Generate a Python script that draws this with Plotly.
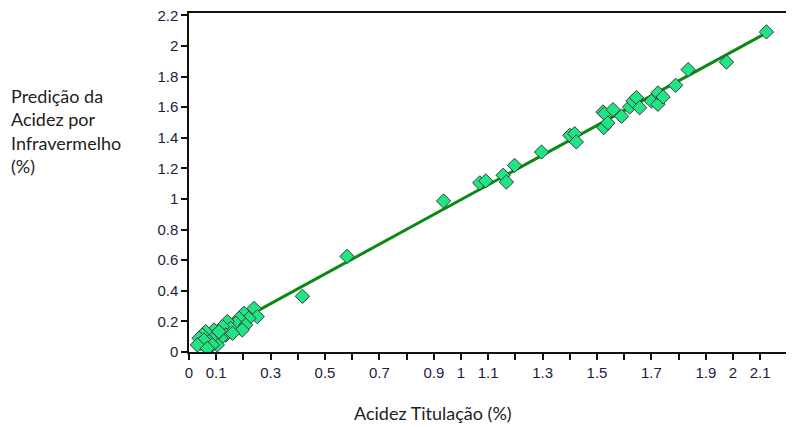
import plotly.graph_objects as go

# Titration acidity (x) vs infrared-predicted acidity (y), in %
acidez_titulacao = [
    0.239, 0.251, 0.202, 0.220, 0.184, 0.172, 0.141, 0.153, 0.123, 0.208,
    0.196, 0.135, 0.117, 0.092, 0.098, 0.104, 0.080, 0.061, 0.049, 0.037,
    0.043, 0.061, 0.074, 0.055, 0.031, 0.086, 0.110, 0.160, 0.068,
    0.417, 0.581, 0.936, 1.069, 1.091, 1.155, 1.167, 1.197, 1.296, 1.400,
    1.418, 1.424,
    1.522, 1.528, 1.525, 1.540, 1.559, 1.590, 1.620, 1.632, 1.645, 1.657,
    1.700, 1.724, 1.724, 1.743, 1.789, 1.835, 1.976, 2.123,
]
acidez_infravermelho = [
    0.285, 0.231, 0.253, 0.220, 0.220, 0.188, 0.199, 0.155, 0.166, 0.176,
    0.144, 0.111, 0.090, 0.144, 0.111, 0.046, 0.090, 0.133, 0.111, 0.090,
    0.057, 0.035, 0.068, 0.078, 0.046, 0.046, 0.133, 0.122, 0.024,
    0.364, 0.625, 0.987, 1.105, 1.118, 1.155, 1.111, 1.220, 1.307, 1.416,
    1.427, 1.373,
    1.569, 1.558, 1.467, 1.497, 1.584, 1.541, 1.601, 1.640, 1.663, 1.597,
    1.640, 1.619, 1.693, 1.667, 1.743, 1.846, 1.895, 2.092,
]

# Regression line end points
reta_x = [0.03, 2.12]
reta_y = [0.054, 2.083]

x_tickvals = [0.0, 0.1, 0.2, 0.3, 0.4, 0.5, 0.6, 0.7, 0.8, 0.9, 1.0,
              1.1, 1.2, 1.3, 1.4, 1.5, 1.6, 1.7, 1.8, 1.9, 2.0, 2.1, 2.2]
x_ticktext = ["0", "0.1", "", "0.3", "", "0.5", "", "0.7", "", "0.9", "1",
              "1.1", "", "1.3", "", "1.5", "", "1.7", "", "1.9", "2", "2.1", ""]
y_tickvals = [0, 0.2, 0.4, 0.6, 0.8, 1.0, 1.2, 1.4, 1.6, 1.8, 2.0, 2.2]
y_ticktext = ["0", "0.2", "0.4", "0.6", "0.8", "1", "1.2", "1.4", "1.6", "1.8", "2", "2.2"]

# The page body has an 8px margin, so the figure is made 8px smaller
OFF = 8
W, H = 794 - OFF, 427 - OFF
ML, MR, MT, MB = 189 - OFF, 0, 13 - OFF, 75
PW = W - ML - MR
PH = H - MT - MB


def px_x(px):  # page pixel -> paper x
    return (px - OFF - ML) / PW


def px_y(py):  # page pixel -> paper y
    return (H - MB - (py - OFF)) / PH


fig = go.Figure()
fig.add_trace(go.Scatter(
    x=reta_x, y=reta_y, mode="lines",
    line=dict(color="#0a8a12", width=3), hoverinfo="skip", showlegend=False,
))
fig.add_trace(go.Scatter(
    x=acidez_titulacao, y=acidez_infravermelho, mode="markers",
    marker=dict(symbol="diamond", size=11, color="#1fe585",
                line=dict(color="#3a3a3a", width=1)),
    showlegend=False,
))

tick_font = dict(family="Liberation Sans, Arial", size=15, color="#1c1c3e")
fig.update_layout(
    width=W, height=H,
    margin=dict(l=ML, r=MR, t=MT, b=MB, pad=0),
    paper_bgcolor="white", plot_bgcolor="white",
    xaxis=dict(
        range=[0, PW / 272.0], tickvals=x_tickvals, ticktext=x_ticktext,
        showgrid=False, zeroline=False, showline=True, linecolor="#111",
        linewidth=1.5, mirror=True, ticks="outside", ticklen=6,
        tickcolor="#111", tickwidth=1.5, tickfont=tick_font,
        ticklabeloverflow="allow",
    ),
    yaxis=dict(
        range=[0, PH / 153.0], tickvals=y_tickvals, ticktext=y_ticktext,
        showgrid=False, zeroline=False, showline=True, linecolor="#111",
        linewidth=1.5, ticks="outside", ticklen=6,
        tickcolor="#111", tickwidth=1.5, tickfont=tick_font,
        ticklabeloverflow="allow",
    ),
    annotations=[
        dict(text="Predição da<br>Acidez por<br>Infravermelho<br>(%)",
             xref="paper", yref="paper",
             x=px_x(9), y=px_y(83),
             xanchor="left", yanchor="top", align="left", showarrow=False,
             font=dict(family="Lato, Noto Sans", size=18, color="#222")),
        dict(text="Acidez Titulação (%)",
             xref="paper", yref="paper",
             x=px_x(433), y=px_y(413),
             xanchor="center", yanchor="middle", showarrow=False,
             font=dict(family="Lato, Noto Sans", size=18, color="#222")),
    ],
)

fig.write_html("out.html")
